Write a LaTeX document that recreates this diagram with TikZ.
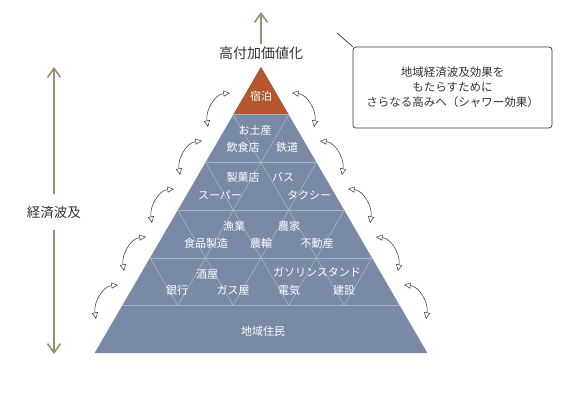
\documentclass[tikz,border=0pt]{standalone}
\usepackage{fontspec}
\setmainfont{Noto Sans CJK JP}
\usetikzlibrary{arrows.meta}

\definecolor{pyrblue}{HTML}{7A89A6}
\definecolor{pyrorange}{HTML}{B4572F}
\definecolor{pyrline}{HTML}{A9B4C8}
\definecolor{khaki}{HTML}{9C8D6E}
\definecolor{ink}{HTML}{333333}

\tikzset{
	tag/.style={text=white, font=\fontsize{11}{13}\selectfont, inner sep=1pt},
	label/.style={text=ink, inner sep=2pt},
	growth/.style={draw=khaki, line width=1.6pt, -{Straight Barb[length=9pt, width=13pt]}},
	swing/.style={draw=ink, line width=0.5pt, {Triangle[open, length=6.5pt, width=6pt]}-{Triangle[open, length=6.5pt, width=6pt]}},
	lattice/.style={draw=pyrline, line width=0.6pt},
}

\begin{document}
\begin{tikzpicture}[x=1pt, y=-1pt]

\useasboundingbox (0, 0) rectangle (568, 400);

\def\hstep{47.7}
\def\wstep{27.75}

% pyramid
\fill[pyrblue] (261, 67) -- ({261-6*\wstep}, {67+6*\hstep}) -- ({261+6*\wstep}, {67+6*\hstep}) -- cycle;
\fill[pyrorange] (261, 67) -- ({261-\wstep}, {67+\hstep}) -- ({261+\wstep}, {67+\hstep}) -- cycle;
\foreach \k in {1,...,5}
	\draw[lattice] ({261-\k*\wstep}, {67+\k*\hstep}) -- ({261+\k*\wstep}, {67+\k*\hstep});
\foreach \k in {1,...,4} {
	\draw[lattice] ({261-\k*\wstep}, {67+\k*\hstep}) -- ({261+(5-2*\k)*\wstep}, {67+5*\hstep});
	\draw[lattice] ({261+\k*\wstep}, {67+\k*\hstep}) -- ({261-(5-2*\k)*\wstep}, {67+5*\hstep});
}

\node (stay) at (261, 96) [tag] {宿泊};
\node (souvenir) at (255, 130) [tag] {お土産};
\node (restaurant) at (243, 147) [tag] {飲食店};
\node (railway) at (287, 147) [tag] {鉄道};
\node (sweets) at (243, 177) [tag] {製菓店};
\node (bus) at (283, 177) [tag] {バス};
\node (market) at (220, 195) [tag] {スーパー};
\node (taxi) at (309, 195) [tag] {タクシー};
\node (fishery) at (234, 226) [tag] {漁業};
\node (farmer) at (289, 226) [tag] {農家};
\node (foodmfg) at (206, 243) [tag] {食品製造};
\node (farmtrans) at (261, 243) [tag] {農輸};
\node (estate) at (317, 243) [tag] {不動産};
\node (liquor) at (207, 274) [tag] {酒屋};
\node (station) at (317, 272) [tag] {ガソリンスタンド};
\node (bank) at (177, 290) [tag] {銀行};
\node (gasco) at (233, 290) [tag] {ガス屋};
\node (power) at (289, 290) [tag] {電気};
\node (build) at (344, 290) [tag] {建設};
\node (locals) at (263, 331) [tag] {地域住民};

% ripple arrows on both sides
\foreach \k in {0,...,4} {
	\coordinate (swLt\k) at ({230-28*\k}, {93+48*\k});
	\coordinate (swLb\k) at ({208-28*\k}, {127+48*\k});
	\coordinate (swRt\k) at ({292+28*\k}, {93+48*\k});
	\coordinate (swRb\k) at ({314+28*\k}, {127+48*\k});
	\draw[swing] (swLt\k) to[out=185, in=100] (swLb\k);
	\draw[swing] (swRt\k) to[out=-5, in=80] (swRb\k);
}

\node (hva) at (261, 53) [label, font=\fontsize{14}{16}\selectfont] {高付加価値化};
\coordinate (hvaTip) at (261, 12);
\draw[growth] (hva.north) -- (hvaTip);

\node (econ) at (54, 212) [label, font=\fontsize{13.5}{16}\selectfont, minimum height=35pt, inner sep=0pt] {経済波及};
\coordinate (econTop) at (54, 67);
\coordinate (econBot) at (54, 354);
\draw[growth] (econ.north) -- (econTop);
\draw[growth] (econ.south) -- (econBot);

\node (callout) at (452.5, 87.5) [draw=ink, line width=0.7pt, rounded corners=3pt, minimum width=199pt, minimum height=81pt, align=center, text=ink, font=\fontsize{11.5}{15}\selectfont] {地域経済波及効果を\\もたらすために\\さらなる高みへ（シャワー効果）};
\coordinate (calloutTail) at (337, 33);
\draw[ink, line width=0.7pt] (callout.north west) -- (calloutTail);

\end{tikzpicture}
\end{document}
